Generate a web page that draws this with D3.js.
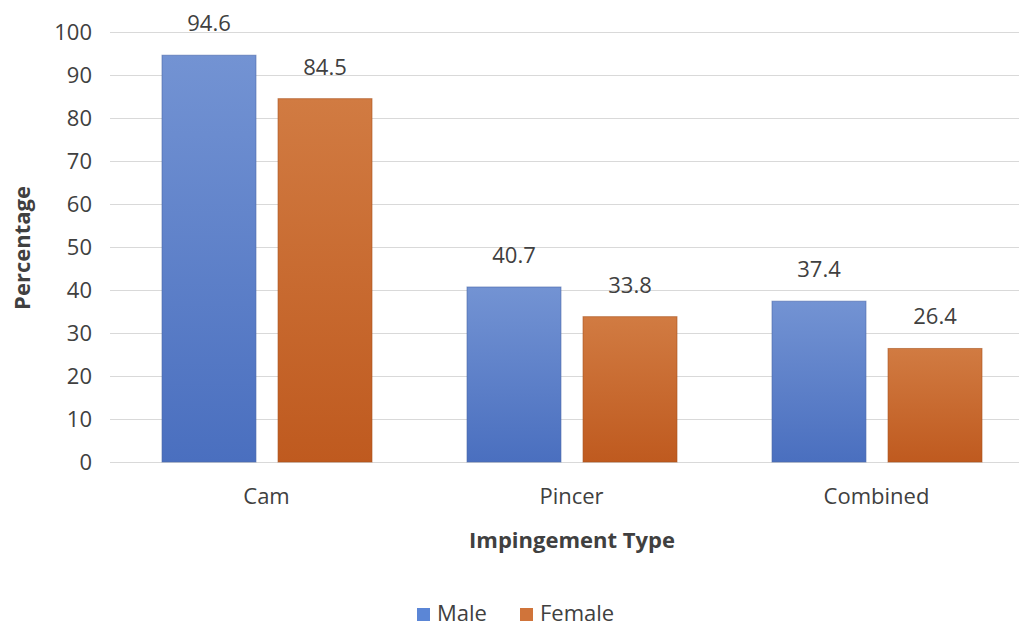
<!DOCTYPE html>
<html>
<head>
<meta charset="utf-8">
<script src="https://cdn.jsdelivr.net/npm/d3@7"></script>
<style>
  html, body { margin: 0; padding: 0; background: #fff; }
  svg { display: block; font-family: "Open Sans", "Noto Sans", sans-serif; }
</style>
</head>
<body>
<svg id="chart" width="1019" height="628"></svg>
<script>
// Impingement type prevalence by sex
const categories = ["Cam", "Pincer", "Combined"];
const seriesNames = ["Male", "Female"];
const maleValues = [94.6, 40.7, 37.4];
const femaleValues = [84.5, 33.8, 26.4];
const yTicks = [0, 10, 20, 30, 40, 50, 60, 70, 80, 90, 100];

const rows = categories.map((c, i) => ({ category: c, Male: maleValues[i], Female: femaleValues[i] }));

const svg = d3.select("#chart");
const W = 1019, H = 628;
const plotLeft = 114, plotTop = 32, plotBottom = 462;
const FS = 22;

const x0 = d3.scaleBand().domain(categories).range([plotLeft, plotLeft + 915]).paddingInner(0).paddingOuter(0);
const x1 = d3.scaleBand().domain(seriesNames).range([48, 258]).paddingInner(0.19).paddingOuter(0);
const y = d3.scaleLinear().domain([0, 100]).range([plotBottom, plotTop]);

// Gradients for the bar fills
const defs = svg.append("defs");
const grads = {
  Male: ["#7393d3", "#4a6fbf"],
  Female: ["#d17b42", "#bf5a1f"]
};
Object.entries(grads).forEach(([k, [top, bot]]) => {
  const g = defs.append("linearGradient").attr("id", "g" + k)
    .attr("x1", 0).attr("y1", 0).attr("x2", 0).attr("y2", 1);
  g.append("stop").attr("offset", "0%").attr("stop-color", top);
  g.append("stop").attr("offset", "100%").attr("stop-color", bot);
});
const strokes = { Male: "#4a68a8", Female: "#a8521c" };
const legendColors = { Male: "#5b86d6", Female: "#d0743a" };

// Horizontal gridlines
svg.append("g").selectAll("line").data(yTicks).join("line")
  .attr("x1", 110).attr("x2", W)
  .attr("y1", d => y(d) + 0.5).attr("y2", d => y(d) + 0.5)
  .attr("stroke", "#d9d9d9").attr("stroke-width", 1.2);

// Y axis tick labels
const yAxis = d3.axisLeft(y).tickValues(yTicks).tickSize(0).tickPadding(0);
const yg = svg.append("g").attr("transform", "translate(92,0)").call(yAxis);
yg.select(".domain").remove();
yg.selectAll("text").attr("font-size", FS).attr("fill", "#404040")
  .attr("font-family", "\"Open Sans\", sans-serif").attr("dy", "0.35em");

// Bars
const groups = svg.append("g").selectAll("g").data(rows).join("g")
  .attr("transform", d => `translate(${x0(d.category)},0)`);

groups.selectAll("rect").data(d => seriesNames.map(s => ({ s, v: d[s] }))).join("rect")
  .attr("x", d => x1(d.s))
  .attr("width", x1.bandwidth())
  .attr("y", d => y(d.v))
  .attr("height", d => y(0) - y(d.v))
  .attr("fill", d => `url(#g${d.s})`)
  .attr("stroke", d => strokes[d.s]).attr("stroke-width", 1).attr("stroke-opacity", 0.6);

// Value labels
groups.selectAll("text.val").data(d => seriesNames.map(s => ({ s, v: d[s] }))).join("text")
  .attr("class", "val")
  .attr("x", d => x1(d.s) + x1.bandwidth() / 2)
  .attr("y", d => y(d.v) - 24)
  .attr("text-anchor", "middle")
  .attr("font-size", FS).attr("fill", "#404040")
  .text(d => d.v.toFixed(1));

// X axis category labels
const xAxis = d3.axisBottom(x0).tickSize(0).tickPadding(0);
const xg = svg.append("g").attr("transform", `translate(0,${plotBottom + 34})`).call(xAxis);
xg.select(".domain").remove();
xg.selectAll("text").attr("font-size", FS).attr("fill", "#404040")
  .attr("font-family", "\"Open Sans\", sans-serif").attr("dy", "0.35em");

// Axis titles
svg.append("text").attr("x", 572).attr("y", 540).attr("dy", "0.35em")
  .attr("text-anchor", "middle").attr("font-size", FS).attr("font-weight", "bold")
  .attr("fill", "#404040").text("Impingement Type");

svg.append("text").attr("transform", "translate(22,248) rotate(-90)").attr("dy", "0.35em")
  .attr("text-anchor", "middle").attr("font-size", FS).attr("font-weight", "bold")
  .attr("fill", "#404040").text("Percentage");

// Legend
const legend = svg.append("g").attr("transform", "translate(417,613)");
const items = [{ s: "Male", x: 0 }, { s: "Female", x: 103 }];
items.forEach(it => {
  legend.append("rect").attr("x", it.x).attr("y", -5).attr("width", 13).attr("height", 13)
    .attr("fill", legendColors[it.s]);
  legend.append("text").attr("x", it.x + 20).attr("y", 0).attr("dy", "0.35em")
    .attr("font-size", 22).attr("fill", "#404040").text(it.s);
});
</script>
</body>
</html>
